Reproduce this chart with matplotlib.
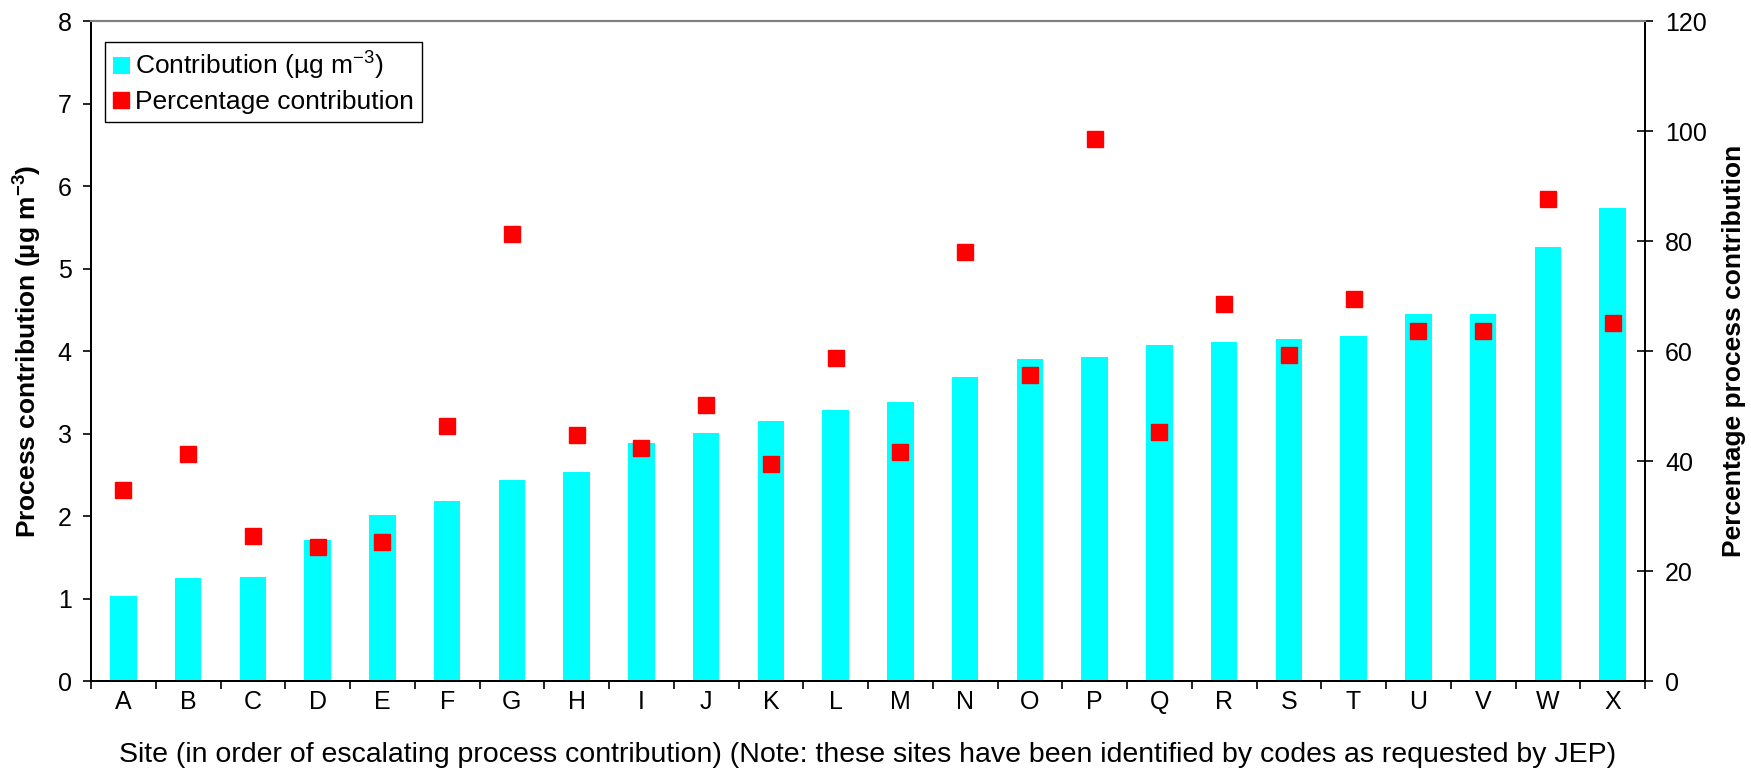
import matplotlib
matplotlib.use("Agg")
import matplotlib.pyplot as plt
from matplotlib.ticker import MultipleLocator, FixedLocator

plt.rcParams['font.family'] = ['Liberation Sans', 'DejaVu Sans']
plt.rcParams['mathtext.fontset'] = 'custom'
plt.rcParams['mathtext.rm'] = 'Liberation Sans'
plt.rcParams['mathtext.it'] = 'Liberation Sans:italic'
plt.rcParams['mathtext.bf'] = 'Liberation Sans:bold'

sites = list("ABCDEFGHIJKLMNOPQRSTUVWX")
contribution = [1.03, 1.25, 1.27, 1.71, 2.02, 2.18, 2.44, 2.54, 2.89, 3.01, 3.15, 3.29,
                3.38, 3.69, 3.91, 3.93, 4.08, 4.11, 4.15, 4.19, 4.45, 4.45, 5.26, 5.74]
percentage = [34.8, 41.3, 26.4, 24.4, 25.4, 46.4, 81.4, 44.7, 42.5, 50.2, 39.5, 58.8,
              41.7, 78.1, 55.7, 98.6, 45.4, 68.6, 59.3, 69.6, 63.6, 63.6, 87.7, 65.2]

W, H = 1751, 771
fig = plt.figure(figsize=(W / 100, H / 100), dpi=100)
ax = fig.add_axes([91 / W, 1 - 681.3 / H, (1645 - 91) / W, (681.3 - 21.3) / H])
ax2 = ax.twinx()

x = list(range(len(sites)))
bars = ax.bar(x, contribution, width=0.41, color='#00FFFF', zorder=2,
              label='Contribution (µg m$^{-3}$)')
pts, = ax2.plot(x, percentage, linestyle='none', marker='s', markersize=11.5,
                color='#FF0000', markeredgecolor='#FF0000',
                label='Percentage contribution')

ax.set_xlim(-0.5, len(sites) - 0.5)
ax.set_ylim(0, 8)
ax2.set_ylim(0, 120)
ax.yaxis.set_major_locator(MultipleLocator(1))
ax2.yaxis.set_major_locator(MultipleLocator(20))

ax.set_xticks(x)
ax.set_xticklabels(sites)
ax.xaxis.set_minor_locator(FixedLocator([i - 0.5 for i in range(len(sites) + 1)]))
ax.tick_params(axis='x', which='major', length=0, pad=6, labelsize=18)
ax.tick_params(axis='x', which='minor', length=6, width=1.2, direction='out')
ax.tick_params(axis='y', which='major', length=6, width=1.2, direction='out',
               pad=8, labelsize=18)
ax2.tick_params(axis='y', which='major', length=12, width=1.2, direction='inout',
                pad=8.5, labelsize=18)

for a in (ax, ax2):
    a.spines['top'].set_color('#808080')
    a.spines['top'].set_linewidth(1.5)
    for s in ('left', 'right', 'bottom'):
        a.spines[s].set_color('black')
        a.spines[s].set_linewidth(1.3)

ax.set_ylabel('Process contribution (µg m$^{\\mathbf{-3}}$)', fontsize=19,
              fontweight='bold')
ax.yaxis.set_label_coords(-0.030, 0.5)
ax2.set_ylabel('Percentage process contribution', fontsize=19, fontweight='bold')
ax2.yaxis.set_label_coords(1.0495, 0.5)
ax.set_xlabel('Site (in order of escalating process contribution) (Note: these sites '
              'have been identified by codes as requested by JEP)', fontsize=20.5)
ax.xaxis.set_label_coords(0.5, -0.092)

leg = ax2.legend([bars, pts], ['Contribution (µg m$^{-3}$)', 'Percentage contribution'],
                 loc='upper left', bbox_to_anchor=(0.009, 0.9686),
                 fontsize=19, frameon=True, fancybox=False, edgecolor='black',
                 framealpha=1, handlelength=0.65, handleheight=0.65,
                 handletextpad=0.2, borderpad=0.3, labelspacing=0.3,
                 borderaxespad=0, numpoints=1)
leg.get_frame().set_linewidth(1.0)

fig.savefig('out.png', dpi=100)
